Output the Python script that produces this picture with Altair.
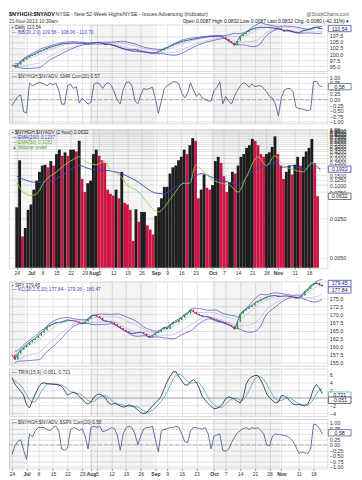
import altair as alt
import pandas as pd

# ---------------- data ----------------
days = list(range(107))

tick_days = [0, 5, 9, 14, 19, 24, 27, 29, 34, 39, 44, 49, 53, 58, 63, 69, 73, 78, 83, 88, 92, 98, 103]
tick_labels = ["24", "Jul", "8", "15", "22", "29", "Aug", "5", "12", "19", "26", "Sep", "9", "16",
               "23", "Oct", "7", "14", "21", "28", "Nov", "11", "18"]
month_days = [5, 27, 49, 69, 92]
shade_start = [-1, 26.5, 68.5]
shade_end = [4.5, 48.5, 91.5]

ratio = [95.5, 94.8, 95.6, 96.8, 97.8, 98.5, 99.2, 99.6, 100.2, 100.9,
         101.4, 101.9, 102.4, 102.8, 103.2, 103.5, 103.9, 104.2, 104.3, 104.4,
         104.5, 104.6, 104.5, 104.4, 104.6, 104.3, 104.1, 104.4, 104.6, 104.8,
         104.7, 104.5, 104.0, 104.2, 103.8, 103.4, 103.0, 102.6, 102.2, 101.9,
         101.8, 101.6, 101.9, 101.4, 101.2, 101.0, 100.7, 100.5, 100.4, 100.6,
         101.0, 101.6, 102.3, 102.8, 103.3, 104.0, 104.3, 104.8, 105.2, 105.5,
         105.7, 106.0, 106.1, 106.4, 106.6, 106.9, 107.0, 107.2, 107.3, 107.2,
         107.4, 107.3, 107.0, 106.2, 105.3, 104.6, 103.6, 105.5, 107.5, 108.2,
         109.0, 109.8, 110.3, 110.7, 111.0, 111.1, 111.0, 111.1, 110.9, 110.8,
         110.5, 110.6, 110.0, 109.4, 109.9, 109.6, 109.2, 108.9, 108.8, 109.5,
         109.9, 110.0, 110.5, 110.9, 111.1, 110.6, 110.4]

corr_top = [-0.28, -0.07, 0.14, 0.21, -0.55, -0.62, 0.75, 0.62, 0.70, 0.76,
            0.76, 0.70, 0.62, 0.74, 0.66, 0.74, 0.42, -0.21, -0.21, 0.62,
            0.70, 0.50, 0.58, -0.16, 0.06, -0.07, -0.21, -0.12, 0.70, 0.76,
            0.70, 0.50, 0.70, 0.76, 0.62, 0.33, -0.04, -0.20, 0.45, 0.76,
            0.80, 0.62, -0.07, -0.20, 0.20, 0.50, 0.45, 0.50, 0.55, 0.05,
            -0.62, -0.10, 0.50, 0.62, 0.70, 0.80, 0.80, 0.70, 0.30, 0.07,
            0.30, 0.76, 0.42, 0.14, 0.28, 0.07, 0.00, -0.07, -0.07, 0.40,
            0.55, 0.80, -0.20, 0.14, -0.07, -0.21, 0.14, 0.42, 0.62, 0.76,
            0.70, 0.55, 0.70, 0.58, 0.62, 0.62, 0.50, 0.35, 0.14, 0.07,
            -0.21, -0.75, 0.07, 0.42, 0.50, 0.50, 0.35, -0.35, -0.42, -0.42,
            -0.47, -0.50, -0.47, 0.80, 0.83, 0.62, 0.58]

hl = [0.040, 0.279, 0.012, 0.017, 0.036, 0.045, 0.083, 0.120, 0.173, 0.224,
      0.232, 0.208, 0.269, 0.224, 0.360, 0.432, 0.334, 0.387, 0.334, 0.432,
      0.432, 0.402, 0.623, 0.129, 0.075, 0.108, 0.120, 0.360, 0.432, 0.334,
      0.279, 0.250, 0.083, 0.070, 0.065, 0.083, 0.058, 0.173, 0.048, 0.045,
      0.036, 0.010, 0.037, 0.022, 0.033, 0.033, 0.019, 0.016, 0.013, 0.028,
      0.040, 0.058, 0.093, 0.093, 0.161, 0.208, 0.224, 0.279, 0.322, 0.432,
      0.360, 0.519, 0.695, 0.623, 0.058, 0.083, 0.155, 0.090, 0.083, 0.100,
      0.269, 0.322, 0.250, 0.144, 0.075, 0.112, 0.173, 0.161, 0.224, 0.322,
      0.360, 0.465, 0.519, 0.670, 0.623, 0.519, 0.360, 0.322, 0.360, 0.387,
      0.482, 0.748, 0.360, 0.224, 0.129, 0.173, 0.224, 0.155, 0.232, 0.322,
      0.224, 0.322, 0.402, 0.465, 0.670, 0.250, 0.063]

ema_slow_days = [0, 7, 12, 17, 22, 26, 30, 36, 39, 43, 46, 49, 52, 55, 59, 62, 65, 68, 72, 75,
                 78, 81, 85, 88, 91, 94, 97, 101, 104, 107]
ema_slow = [0.144, 0.112, 0.120, 0.161, 0.224, 0.193, 0.186, 0.167, 0.144, 0.112,
            0.086, 0.072, 0.070, 0.086, 0.112, 0.134, 0.161, 0.144, 0.120, 0.112,
            0.100, 0.139, 0.208, 0.224, 0.250, 0.208, 0.224, 0.193, 0.232, 0.193]
ema_fast_days = [0, 2, 5, 7, 10, 14, 17, 20, 22, 25, 28, 31, 33, 36, 39, 43, 46, 50, 52, 55,
                 59, 61, 63, 65, 68, 72, 75, 78, 81, 85, 88, 91, 94, 97, 101, 104, 107]
ema_fast = [0.112, 0.077, 0.065, 0.070, 0.120, 0.173, 0.232, 0.290, 0.322, 0.250,
            0.232, 0.269, 0.186, 0.155, 0.100, 0.075, 0.048, 0.033, 0.040, 0.065,
            0.108, 0.108, 0.224, 0.193, 0.134, 0.108, 0.100, 0.075, 0.144, 0.322,
            0.224, 0.334, 0.224, 0.193, 0.173, 0.250, 0.173]

spy = [157.5, 156.0, 157.8, 159.0, 159.8, 160.5, 161.3, 162.0, 162.6, 163.4,
       164.3, 165.0, 166.2, 166.6, 167.0, 167.4, 167.5, 167.7, 168.0, 168.3,
       168.1, 168.0, 167.8, 167.4, 167.2, 167.7, 168.6, 169.6, 169.8, 169.4,
       168.9, 168.2, 167.9, 167.8, 167.5, 167.0, 166.4, 165.8, 165.2, 164.8,
       164.3, 164.0, 164.2, 164.3, 164.5, 164.0, 163.4, 162.8, 163.5, 164.2,
       164.5, 165.3, 166.0, 165.5, 166.8, 167.4, 167.6, 168.3, 169.0, 170.0,
       170.2, 171.5, 170.8, 170.2, 169.8, 169.4, 169.4, 169.2, 168.8, 168.4,
       168.2, 167.8, 167.6, 167.2, 166.8, 166.4, 165.4, 167.6, 170.2, 171.1,
       171.7, 172.3, 172.8, 173.6, 174.1, 174.6, 175.0, 175.4, 175.7, 175.8,
       175.9, 175.5, 175.6, 175.7, 175.7, 175.5, 175.5, 175.0, 175.3, 175.9,
       177.2, 177.9, 179.0, 179.5, 179.8, 179.2, 178.8]

trix = [5.2, 3.6, 2.6, 1.7, 0.7, -1.8, -2.6, -0.7, 1.0, 2.6,
        3.7, 3.9, 3.7, 3.6, 3.5, 3.5, 3.3, 3.0, 1.9, 0.7,
        1.1, 1.5, 1.2, 0.3, -0.3, -1.2, -1.6, -1.0, 0.2, 0.8,
        1.0, 0.5, 0.0, -1.3, -1.7, -1.4, -1.7, -2.1, -2.4, -2.2,
        -1.8, -2.1, -2.5, -3.1, -3.8, -4.1, -3.8, -2.9, -2.1, -1.3,
        -0.6, 0.4, 2.4, 4.2, 5.6, 6.7, 6.8, 5.6, 4.4, 3.4,
        3.3, 4.2, 4.7, 4.0, 2.5, 0.3, -0.6, -1.5, -2.2, -2.8,
        -2.7, -2.3, -1.5, -0.2, 0.3, 0.0, -0.3, -0.9, -1.3, 0.2,
        3.6, 4.9, 5.5, 5.8, 5.8, 4.6, 3.0, 1.0, 0.0, -0.7,
        -1.3, -1.1, 0.6, 0.5, 0.0, -0.9, -1.6, -1.8, -1.7, -1.9,
        -2.1, -1.6, 0.0, 2.4, 3.5, 2.5, 1.1]

corr_bot = [-0.45, -0.05, 0.15, 0.23, -0.25, -0.67, 0.50, 0.37, 0.64, 0.79,
            0.79, 0.79, 0.70, 0.64, 0.79, 0.85, 0.64, -0.19, -0.25, -0.15,
            0.70, 0.79, 0.74, 0.64, 0.74, 0.40, -0.19, 0.79, 0.85, 0.79,
            0.85, 0.60, 0.64, 0.70, 0.79, 0.74, 0.43, -0.25, 0.50, 0.79,
            0.85, 0.79, 0.50, 0.00, 0.40, 0.72, 0.79, 0.79, 0.85, 0.23,
            -0.33, 0.64, 0.70, 0.74, 0.79, 0.79, 0.85, 0.79, 0.50, 0.15,
            0.10, 0.64, 0.79, 0.79, 0.74, 0.72, 0.79, 0.50, -0.19, 0.40,
            0.45, 0.50, -0.25, -0.30, -0.20, 0.10, 0.35, 0.55, 0.64, 0.74,
            0.79, 0.70, 0.79, 0.74, 0.79, 0.64, 0.50, 0.00, -0.05, 0.40,
            0.50, 0.47, 0.45, 0.42, 0.40, 0.30, 0.15, -0.10, -0.40, -0.33,
            -0.36, -0.40, -0.20, 0.92, 0.92, 0.74, 0.50]

df = pd.DataFrame({"d": days, "ratio": ratio, "c1": corr_top, "hl": hl,
                   "spy": spy, "trix": trix, "c2": corr_bot})
slow_df = pd.DataFrame({"d": ema_slow_days, "v": ema_slow})
fast_df = pd.DataFrame({"d": ema_fast_days, "v": ema_fast})
shade_df = pd.DataFrame({"b0": shade_start, "b1": shade_end})
one = pd.DataFrame({"k": [0]})

# ---------------- styling helpers ----------------
F = "Liberation Sans"
W = 322
H1, H2, H3, H5, H6, H7 = 47, 51, 140, 85, 48, 50
GRID = "#d0d0d0"
XS = alt.Scale(domain=[-1, 107.7], nice=False, zero=False)

lab_expr = ("[" + ",".join("'%s'" % l for l in tick_labels) + "][indexof(["
            + ",".join(str(d) for d in tick_days) + "], datum.value)]")
bold_test = "indexof([" + ",".join(str(d) for d in month_days) + "], datum.value) >= 0"


def x_axis(show):
    return alt.Axis(values=tick_days, grid=True, gridColor=GRID, gridWidth=0.6, domain=False,
                    labels=show, ticks=show, tickSize=2, tickColor="#999", labelExpr=lab_expr,
                    labelFontSize=5.0, labelPadding=1, labelFont=F, labelColor="#333",
                    labelOverlap=False, title=None,
                    labelFontWeight={"condition": {"test": bold_test, "value": "bold"},
                                     "value": "normal"})


def y_axis(values, fmt=None, expr=None):
    kw = dict(orient="right", values=values, grid=True, gridColor=GRID, gridWidth=0.6,
              domain=False, ticks=False, labelFontSize=5.5, labelFont=F, labelColor="#333",
              labelPadding=2, title=None, labelOverlap=False)
    if fmt:
        kw["format"] = fmt
    if expr:
        kw["labelExpr"] = expr
    return alt.Axis(**kw)


def shade(H, show):
    return alt.Chart(shade_df).mark_rect(color="#000000", opacity=0.045).encode(
        x=alt.X("b0:Q", scale=XS, axis=x_axis(show)), x2="b1:Q",
        y=alt.value(0), y2=alt.value(H))


def label(txt, x, y, color="#333", size=5.0, align="left", weight="normal"):
    return alt.Chart(one).mark_text(text=txt, fontSize=size, font=F, color=color, align=align,
                                    baseline="middle", fontWeight=weight).encode(
        x=alt.value(x), y=alt.value(y))


BOX = "M-1,-0.28L1,-0.28L1,0.28L-1,0.28Z"


def boxed(value, txt, color, ys, ax):
    d = pd.DataFrame({"v": [value], "t": [txt]})
    c = alt.Chart(d)
    b = c.mark_point(shape=BOX, size=23 * 23, filled=True, fill="white", stroke=color,
                     strokeWidth=0.8, opacity=1).encode(
        x=alt.value(W + 12.5), y=alt.Y("v:Q", scale=ys, axis=ax))
    t = c.mark_text(fontSize=5.3, font=F, color="#222").encode(
        x=alt.value(W + 12.5), y=alt.Y("v:Q", scale=ys, axis=ax), text="t:N")
    return [b, t]


base = alt.Chart(df)
X = alt.X("d:Q", scale=XS, axis=x_axis(False))
XL = alt.X("d:Q", scale=XS, axis=x_axis(True))


def price_layers(field, ys, ax, band_col, up_col, down_col, line_col, k_out, k_in):
    bb = base.transform_window(m="mean(%s)" % field, s="stdev(%s)" % field, frame=[-9, 0],
                               sort=[alt.SortField("d")]).transform_calculate(
        up="datum.m + %s * datum.s" % k_out, lo="datum.m - %s * datum.s" % k_out,
        iu="datum.m + %s * datum.s" % k_in, il="datum.m - %s * datum.s" % k_in)
    mv = base.transform_window(prev="lag(%s)" % field, sort=[alt.SortField("d")]).transform_filter(
        "datum.prev != null").transform_calculate(
        col="datum.%s >= datum.prev ? '%s' : '%s'" % (field, up_col, down_col))
    return [
        bb.mark_line(color=band_col, strokeWidth=0.8).encode(x=X, y=alt.Y("up:Q", scale=ys, axis=ax)),
        bb.mark_line(color=band_col, strokeWidth=0.8).encode(x=X, y=alt.Y("lo:Q", scale=ys, axis=ax)),
        bb.mark_line(color="#a0a0e0", strokeWidth=0.5).encode(x=X, y=alt.Y("iu:Q", scale=ys, axis=ax)),
        bb.mark_line(color="#a0a0e0", strokeWidth=0.5).encode(x=X, y=alt.Y("il:Q", scale=ys, axis=ax)),
        base.mark_line(color=line_col, strokeWidth=0.8).encode(
            x=X, y=alt.Y("%s:Q" % field, scale=ys, axis=ax)),
        mv.mark_rule(strokeWidth=1.5).encode(
            x=X, y=alt.Y("prev:Q", scale=ys, axis=ax), y2="%s:Q" % field,
            color=alt.Color("col:N", scale=None, legend=None)),
    ]


# ---------------- panel 1: ratio price ----------------
ys1 = alt.Scale(domain=[93, 112.2], nice=False, zero=False)
ax1 = y_axis([95, 97.5, 100, 102.5, 105, 107.5], ".1f")
p1 = alt.layer(
    shade(H1, False),
    *price_layers("ratio", ys1, ax1, "#5a5ad0", "#22aa22", "#e02020", "#2a2ac0", 1.7, 0.8),
    *boxed(110.54, "110.54", "#4444cc", ys1, ax1),
    label("$NYHGH:$NYADV", 0, -11, "#111", 5.5, weight="bold"),
    label("NYSE - New 52-Week Highs/NYSE - Issues Advancing (Indicator)", 47, -11, "#333", 5.3),
    label("21-Nov-2013 10:30am", 0, -4, "#333", 5.0),
    label("@StockCharts.com", W + 22, -11, "#555", 5.0, align="right"),
    label("Open 0.0087  High 0.0832  Low 0.0087  Last 0.0832  Chg -0.0080 (-42.31%) \u25be",
          W + 22, -4, "#111", 5.0, align="right"),
    label("\u25aa Daily 110.54", 3, 4, "#333", 4.8),
    label("\u2014 BB(20,2.0) 109.56 - 108.06 - 110.70", 3, 9, "#4444cc", 4.8),
).properties(width=W, height=H1)

# ---------------- panel 2: correlation ----------------
ys2 = alt.Scale(domain=[-1.08, 1.2], nice=False, zero=False)
ax2 = y_axis([-1, -0.75, -0.5, -0.25, 0, 0.25, 0.5, 0.75, 1], ".2f")
p2 = alt.layer(
    shade(H2, False),
    alt.Chart(one).mark_rule(color="#999", strokeDash=[4, 2], strokeWidth=0.7).encode(
        y=alt.Y("z:Q", scale=ys2, axis=ax2)).transform_calculate(z="0"),
    base.mark_line(color="#556095", strokeWidth=0.9).encode(x=X, y=alt.Y("c1:Q", scale=ys2, axis=ax2)),
    *boxed(0.58, "0.58", "#556095", ys2, ax2),
    label("\u2014 $NYHGH:$NYADV, SMR Corr(20) 0.57", 3, 4, "#333", 4.8),
).properties(width=W, height=H2)

# ---------------- panel 3: ratio bars, log scale ----------------
ys3 = alt.Scale(type="log", domain=[0.0033, 1.0], nice=False)
ticks3 = [0.005, 0.025, 0.075, 0.1, 0.125] + [round(0.05 * k, 2) for k in range(3, 21)]
ax3 = y_axis(ticks3, expr="datum.value >= 1 ? '1.00' : format(datum.value, '.4f')")
bars = base.transform_window(prev="lag(hl)", sort=[alt.SortField("d")]).transform_calculate(
    col="datum.prev == null || datum.hl >= datum.prev ? '#1e1e1e' : '#cc1745'")
p3 = alt.layer(
    shade(H3, True),
    bars.mark_bar(size=2.9).encode(
        x=XL, y=alt.Y("hl:Q", scale=ys3, axis=ax3, stack=None), y2=alt.value(H3),
        color=alt.Color("col:N", scale=None, legend=None)),
    alt.Chart(slow_df).mark_line(color="#3c3cc8", strokeWidth=0.9, interpolate="monotone").encode(
        x=XL, y=alt.Y("v:Q", scale=ys3, axis=ax3)),
    alt.Chart(fast_df).mark_line(color="#93d050", strokeWidth=0.9, interpolate="monotone").encode(
        x=XL, y=alt.Y("v:Q", scale=ys3, axis=ax3)),
    *boxed(0.193, "0.1932", "#3c3cc8", ys3, ax3),
    *boxed(0.063, "0.0632", "#555", ys3, ax3),
    label("\u25aa $NYHGH:$NYADV (2 hour) 0.0632", 3, 4, "#222", 4.8),
    label("\u2014 EMA(200) 0.1237", 3, 9, "#3c3cc8", 4.8),
    label("\u2014 EMA(50) 0.1082", 3, 14, "#6fb030", 4.8),
    label("\u25b2 Volume undef", 3, 19, "#4a9a30", 4.8),
).properties(width=W, height=H3)

# ---------------- panel 5: SPY ----------------
ys5 = alt.Scale(domain=[154.1, 180.2], nice=False, zero=False)
ax5 = y_axis([155, 157.5, 160, 162.5, 165, 167.5, 170, 172.5, 175], ".1f")
p5 = alt.layer(
    shade(H5, False),
    *price_layers("spy", ys5, ax5, "#5a5ad0", "#22aa22", "#e02020", "#2a2ac0", 1.7, 0.8),
    *boxed(179.6, "179.45", "#4444cc", ys5, ax5),
    *boxed(177.6, "177.84", "#4444cc", ys5, ax5),
    label("\u25aa SPY 179.45", 3, 4, "#333", 4.8),
    label("\u2014 KC(20,2.5,10) 177.84 - 179.06 - 180.47", 3, 9, "#4444cc", 4.8),
).properties(width=W, height=H5)

# ---------------- panel 6: TRIX ----------------
ys6 = alt.Scale(domain=[-4.7, 7.6], nice=False, zero=False)
ax6 = y_axis([-4, -2, 0, 2, 4, 6], "d")
sig = base.transform_window(sg="mean(trix)", frame=[-3, 0], sort=[alt.SortField("d")])
p6 = alt.layer(
    shade(H6, False),
    alt.Chart(one).mark_rule(color="#999", strokeWidth=0.8).encode(
        y=alt.Y("z:Q", scale=ys6, axis=ax6)).transform_calculate(z="0"),
    sig.mark_line(color="#4fb0b0", strokeWidth=0.9).encode(x=X, y=alt.Y("sg:Q", scale=ys6, axis=ax6)),
    base.mark_line(color="#34345e", strokeWidth=0.9).encode(x=X, y=alt.Y("trix:Q", scale=ys6, axis=ax6)),
    *boxed(0.721, "0.721", "#4fb0b0", ys6, ax6),
    *boxed(-0.6, "-0.051", "#34345e", ys6, ax6),
    label("\u2014 TRIX(15,9) -0.051, 0.721", 3, 4, "#333", 4.8),
).properties(width=W, height=H6)

# ---------------- panel 7: correlation with SPX ----------------
ys7 = alt.Scale(domain=[-1.08, 1.18], nice=False, zero=False)
ax7 = y_axis([-1, -0.75, -0.5, -0.25, 0, 0.25, 0.5, 0.75, 1], ".2f")
p7 = alt.layer(
    shade(H7, True),
    alt.Chart(one).mark_rule(color="#999", strokeDash=[4, 2], strokeWidth=0.7).encode(
        y=alt.Y("z:Q", scale=ys7, axis=ax7)).transform_calculate(z="0"),
    base.mark_line(color="#556095", strokeWidth=0.9).encode(x=XL, y=alt.Y("c2:Q", scale=ys7, axis=ax7)),
    *boxed(0.55, "0.58", "#556095", ys7, ax7),
    label("\u2014 $NYHGH:$NYADV, $SPX Corr(20) 0.58", 3, 4, "#333", 4.8),
).properties(width=W, height=H7)

chart = alt.vconcat(p1, p2, p3, p5, p6, p7, spacing=0).properties(
    padding={"left": 0, "top": 0, "right": 0, "bottom": 0}
).configure_view(fill="#f3f3f3", stroke="#9a9a9a", strokeWidth=0.7).configure(font=F)

chart.save("out.html", embed_options={"renderer": "svg", "actions": False})
